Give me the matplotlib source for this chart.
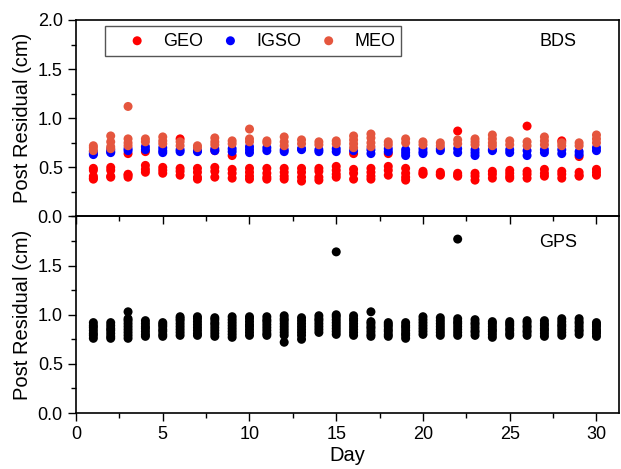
import matplotlib
matplotlib.use("Agg")
import matplotlib.pyplot as plt
from matplotlib.ticker import MultipleLocator, FormatStrFormatter
from matplotlib.patches import Rectangle

plt.rcParams['font.family'] = ['Liberation Sans', 'DejaVu Sans']

days = list(range(1, 31))

# BDS post residuals per day (cm)
geo = [
  [0.49, 0.47, 0.41, 0.39, 0.38], [0.50, 0.47, 0.41, 0.40], [0.64, 0.43, 0.42, 0.40],
  [0.66, 0.52, 0.48, 0.45], [0.50, 0.47, 0.44], [0.79, 0.49, 0.46, 0.42],
  [0.49, 0.45, 0.40, 0.38], [0.67, 0.50, 0.46, 0.40], [0.62, 0.48, 0.44, 0.39],
  [0.49, 0.45, 0.41, 0.38], [0.49, 0.44, 0.40, 0.38], [0.49, 0.45, 0.41, 0.38],
  [0.49, 0.45, 0.40, 0.36], [0.49, 0.46, 0.40, 0.37], [0.51, 0.47, 0.43, 0.40],
  [0.64, 0.48, 0.44, 0.38], [0.49, 0.45, 0.41, 0.38], [0.64, 0.51, 0.47, 0.42],
  [0.49, 0.44, 0.40, 0.37], [0.46, 0.44, 0.43], [0.45, 0.43, 0.42],
  [0.87, 0.44, 0.42, 0.41], [0.44, 0.41, 0.37], [0.46, 0.43, 0.39],
  [0.47, 0.44, 0.41, 0.39], [0.92, 0.46, 0.43, 0.39], [0.48, 0.44, 0.41],
  [0.77, 0.46, 0.43, 0.39], [0.61, 0.45, 0.42, 0.41], [0.48, 0.45, 0.42],
]
igso = [
  [0.66, 0.64, 0.63], [0.68, 0.66, 0.65], [0.69, 0.67], [0.71, 0.68], [0.70, 0.67, 0.65],
  [0.68, 0.66], [0.67, 0.66], [0.69, 0.67], [0.69, 0.66], [0.71, 0.68, 0.65],
  [0.70, 0.67], [0.68, 0.66], [0.69, 0.68], [0.68, 0.66], [0.69, 0.66],
  [0.67], [0.68, 0.64], [0.69, 0.66], [0.68, 0.65, 0.62], [0.69, 0.66, 0.64],
  [0.69, 0.67], [0.69, 0.65], [0.68, 0.65, 0.62], [0.68, 0.67], [0.68, 0.65],
  [0.67, 0.62], [0.68, 0.65], [0.68, 0.64], [0.66, 0.63], [0.70, 0.67],
]
meo = [
  [0.72, 0.70, 0.67], [0.82, 0.76, 0.71, 0.69], [1.12, 0.79, 0.75, 0.72], [0.79, 0.76],
  [0.81, 0.77, 0.74], [0.76, 0.72], [0.72, 0.70], [0.80, 0.76, 0.73], [0.77, 0.74],
  [0.89, 0.79, 0.76], [0.77, 0.75], [0.81, 0.76, 0.72], [0.78, 0.74], [0.76, 0.73],
  [0.77, 0.74], [0.82, 0.78, 0.74, 0.70], [0.84, 0.80, 0.75, 0.71], [0.76, 0.73],
  [0.79, 0.75], [0.76, 0.73], [0.75, 0.72], [0.78, 0.74], [0.79, 0.76, 0.73],
  [0.83, 0.79, 0.75, 0.72], [0.77, 0.73], [0.76, 0.72], [0.81, 0.77, 0.73],
  [0.75, 0.72], [0.75, 0.72], [0.83, 0.79, 0.75],
]

# GPS post residuals per day (cm)
gps = [
  [0.76, 0.79, 0.81, 0.84, 0.87, 0.89, 0.92],
  [0.76, 0.78, 0.81, 0.84, 0.86, 0.89, 0.92],
  [0.76, 0.79, 0.82, 0.85, 0.88, 0.91, 0.94, 0.96, 1.03],
  [0.78, 0.80, 0.83, 0.86, 0.88, 0.91, 0.94],
  [0.78, 0.80, 0.83, 0.85, 0.88, 0.90, 0.92],
  [0.79, 0.82, 0.85, 0.88, 0.91, 0.94, 0.96, 0.98],
  [0.79, 0.81, 0.84, 0.87, 0.90, 0.93, 0.96, 0.98],
  [0.78, 0.81, 0.84, 0.87, 0.90, 0.92, 0.95, 0.97],
  [0.77, 0.80, 0.83, 0.86, 0.89, 0.92, 0.95, 0.98],
  [0.79, 0.82, 0.85, 0.88, 0.90, 0.93, 0.96, 0.98],
  [0.79, 0.81, 0.84, 0.87, 0.90, 0.93, 0.95, 0.98],
  [0.72, 0.79, 0.82, 0.85, 0.88, 0.91, 0.94, 0.96, 0.99],
  [0.75, 0.79, 0.82, 0.85, 0.88, 0.91, 0.94, 0.97],
  [0.82, 0.85, 0.88, 0.91, 0.94, 0.96, 0.99],
  [0.80, 0.83, 0.86, 0.89, 0.92, 0.95, 0.98, 1.00, 1.64],
  [0.79, 0.82, 0.85, 0.88, 0.91, 0.94, 0.96, 0.99],
  [0.78, 0.80, 0.83, 0.86, 0.88, 0.91, 0.93, 1.03],
  [0.78, 0.80, 0.83, 0.85, 0.88, 0.90, 0.92],
  [0.76, 0.79, 0.81, 0.84, 0.87, 0.89, 0.92],
  [0.80, 0.83, 0.86, 0.89, 0.92, 0.95, 0.98],
  [0.79, 0.82, 0.85, 0.88, 0.91, 0.94, 0.97],
  [0.79, 0.82, 0.85, 0.88, 0.91, 0.93, 0.96, 1.77],
  [0.79, 0.82, 0.84, 0.87, 0.90, 0.92, 0.95],
  [0.77, 0.80, 0.83, 0.85, 0.88, 0.91, 0.93],
  [0.79, 0.81, 0.84, 0.86, 0.89, 0.91, 0.93],
  [0.79, 0.82, 0.84, 0.87, 0.89, 0.92, 0.94],
  [0.78, 0.81, 0.84, 0.86, 0.89, 0.91, 0.94],
  [0.79, 0.82, 0.85, 0.88, 0.90, 0.93, 0.96],
  [0.80, 0.83, 0.85, 0.88, 0.91, 0.93, 0.96],
  [0.78, 0.81, 0.83, 0.85, 0.88, 0.90, 0.92],
]

def flat(series):
  xs = [d for d, vals in zip(days, series) for v in vals]
  ys = [v for vals in series for v in vals]
  return xs, ys

fig, (ax1, ax2) = plt.subplots(2, 1, figsize=(6.21, 4.69), dpi=100, sharex=True)
fig.subplots_adjust(left=0.1224, right=0.9968, top=0.9574, bottom=0.1194, hspace=0)

ms = 42
for data, col, lab in [(geo, "#ff0000", "GEO"), (igso, "#0000ff", "IGSO"), (meo, "#e5563e", "MEO")]:
  x, y = flat(data)
  ax1.scatter(x, y, s=ms, color=col, edgecolors="none", label=lab)
x, y = flat(gps)
ax2.scatter(x, y, s=ms, color="black", edgecolors="none")

for ax in (ax1, ax2):
  ax.set_xlim(0, 31.3)
  ax.set_ylim(0, 2.0)
  ax.xaxis.set_major_locator(MultipleLocator(5))
  ax.xaxis.set_minor_locator(MultipleLocator(2.5))
  ax.yaxis.set_major_locator(MultipleLocator(0.5))
  ax.yaxis.set_minor_locator(MultipleLocator(0.25))
  ax.yaxis.set_major_formatter(FormatStrFormatter("%.1f"))
  ax.tick_params(which="major", direction="out", length=6, width=1, labelsize=13, top=False, right=False)
  ax.tick_params(which="minor", direction="out", length=3.5, width=1, top=False, right=False)
  for sp in ax.spines.values():
    sp.set_linewidth(1.2)
  ax.set_ylabel("Post Residual (cm)", fontsize=14.5)

ax1.set_zorder(3)
ax1.patch.set_alpha(0)
ax1.tick_params(labelbottom=False)
ax2.set_yticks([0, 0.5, 1.0, 1.5])
ax2.set_xlabel("Day", fontsize=14.5, labelpad=2)
fig.align_ylabels([ax1, ax2])

ax1.text(0.887, 0.888, "BDS", transform=ax1.transAxes, fontsize=13, ha="center", va="center")
ax2.text(0.887, 0.868, "GPS", transform=ax2.transAxes, fontsize=13, ha="center", va="center")

# legend box drawn separately (Origin-style wide left padding)
ax1.add_patch(Rectangle((0.0534, 0.816), 0.545, 0.153, transform=ax1.transAxes,
  facecolor="white", edgecolor="#555555", linewidth=1.0, zorder=4))
leg = ax1.legend(loc="center left", bbox_to_anchor=(0.086, 0.893), borderaxespad=0, ncol=3,
  fontsize=13, frameon=False, handlelength=1.6, handletextpad=0.65,
  columnspacing=0.7, borderpad=0, scatterpoints=1)
leg.set_zorder(5)

fig.savefig("out.png", dpi=100)
